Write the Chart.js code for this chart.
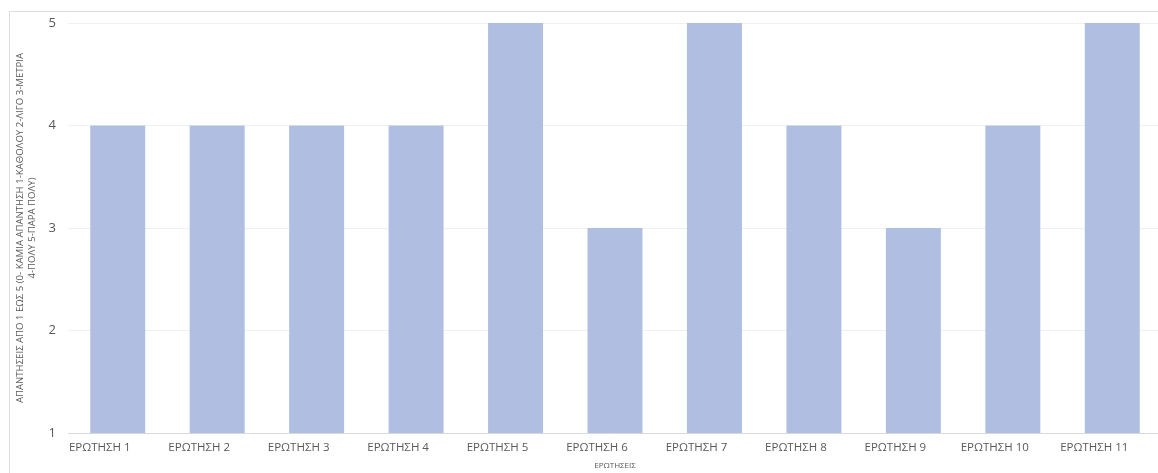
<!DOCTYPE html>
<html>
<head>
<meta charset="utf-8">
<script src="https://cdn.jsdelivr.net/npm/chart.js@4"></script>
<style>
  html, body { margin: 0; padding: 0; background: #fff; overflow: hidden; }
  #box {
    position: absolute; left: 9px; top: 11px;
    width: 1160px; height: 470px;
    border-left: 1px solid #dedede; border-top: 1px solid #dedede;
  }
  #wrap { position: absolute; left: 0; top: 0; width: 1152px; height: 462px; }
</style>
</head>
<body>
<div id="box"><div id="wrap"><canvas id="chart"></canvas></div></div>
<script>
const questions = ["ΕΡΩΤΗΣΗ 1", "ΕΡΩΤΗΣΗ 2", "ΕΡΩΤΗΣΗ 3", "ΕΡΩΤΗΣΗ 4", "ΕΡΩΤΗΣΗ 5", "ΕΡΩΤΗΣΗ 6",
                   "ΕΡΩΤΗΣΗ 7", "ΕΡΩΤΗΣΗ 8", "ΕΡΩΤΗΣΗ 9", "ΕΡΩΤΗΣΗ 10", "ΕΡΩΤΗΣΗ 11"];
const answers = [4, 4, 4, 4, 5, 3, 5, 4, 3, 4, 5];
const yTitle = ["ΑΠΑΝΤΗΣΕΙΣ ΑΠΟ 1 ΕΩΣ 5 (0- ΚΑΜΙΑ ΑΠΑΝΤΗΣΗ 1-ΚΑΘΟΛΟΥ 2-ΛΙΓΟ 3-ΜΕΤΡΙΑ", "4-ΠΟΛΥ 5-ΠΑΡΑ ΠΟΛΥ)"];
const xTitle = "ΕΡΩΤΗΣΕΙΣ";

const font = "'Open Sans', 'DejaVu Sans', sans-serif";
const grey = "#595959";

new Chart(document.getElementById("chart"), {
  type: "bar",
  data: {
    labels: questions,
    datasets: [{
      data: answers,
      backgroundColor: "#b0bfe1",
      borderWidth: 0,
      barPercentage: 0.553,
      categoryPercentage: 1,
    }],
  },
  options: {
    responsive: true,
    maintainAspectRatio: false,
    animation: false,
    layout: { padding: { top: 11, right: 0, left: 0, bottom: 0 } },
    plugins: {
      legend: { display: false },
      tooltip: { enabled: false },
    },
    scales: {
      x: {
        grid: { display: false, drawTicks: false },
        border: { color: "#d9d9d9", width: 1 },
        ticks: {
          color: grey, font: { family: font, size: 11.5 },
          labelOffset: -18, padding: 8,
          maxRotation: 0, autoSkip: false,
        },
        title: {
          display: true, text: xTitle, color: grey,
          font: { family: font, size: 8 }, padding: { top: 0, bottom: 3 },
        },
        afterFit: s => { s.height = 41; },
      },
      y: {
        min: 1, max: 5,
        grid: { color: "#f0f0f0", drawTicks: false },
        border: { display: false },
        ticks: {
          stepSize: 1, color: grey, padding: 12,
          font: { family: font, size: 13 },
        },
        title: {
          display: true, text: yTitle, color: grey,
          font: { family: font, size: 9.6 }, padding: { top: 5, bottom: 0 },
        },
        afterFit: s => { s.width = 58; s.paddingTop = 0; s.paddingBottom = 0; },
      },
    },
  },
});
</script>
</body>
</html>
